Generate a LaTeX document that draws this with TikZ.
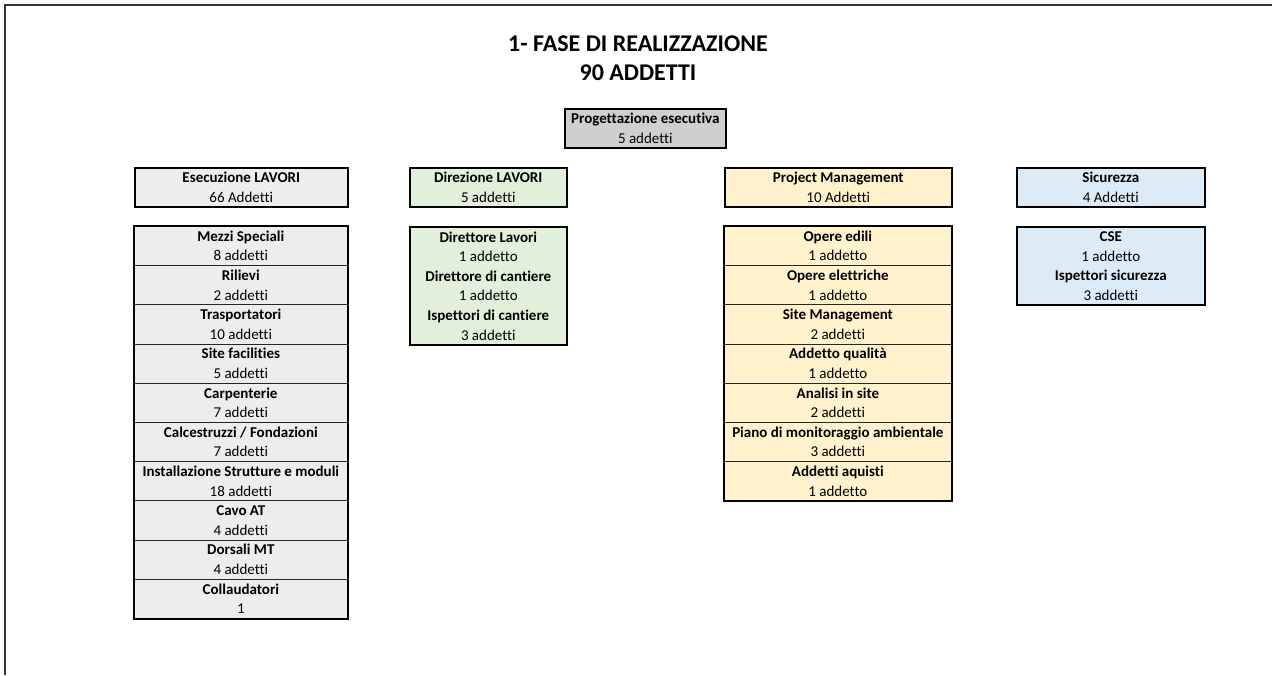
\documentclass[tikz,border=0pt]{standalone}
\usepackage{fontspec}
\setmainfont{Carlito}[Ligatures=NoCommon]
\definecolor{cgray}{HTML}{EDEDED}
\definecolor{cdark}{HTML}{D0CECE}
\definecolor{cgreen}{HTML}{E2EFDA}
\definecolor{cyellow}{HTML}{FFF2CC}
\definecolor{cblue}{HTML}{DDEBF7}
\definecolor{frame}{HTML}{333333}
\begin{document}
\begin{tikzpicture}[x=1pt,y=-1pt,
  txt/.style={font=\fontsize{15}{19.6}\selectfont},
  hbox/.style={txt, draw=black, line width=1.6pt, anchor=north west, inner sep=0pt,
    align=center, minimum height=39pt},
  cell/.style={txt, draw=black!85, line width=0.7pt, anchor=north west, inner sep=0pt,
    align=center, minimum height=39.2pt},
  outer/.style={draw=black, line width=1.6pt},
  titlestyle/.style={font=\fontsize{24}{28}\selectfont\bfseries, anchor=base}
]
\useasboundingbox (0,0) rectangle (1272,675);
\fill[white] (0,0) rectangle (1272,675);
% frame
\draw[frame, line width=2pt] (4,5) -- (1272,5);
\draw[frame, line width=2pt] (5,4) -- (5,675);
% title
\node[titlestyle] (t1) at (638,51) {1- FASE DI REALIZZAZIONE};
\node[titlestyle] (t2) at (638,80) {90 ADDETTI};
% top box
\node[hbox, fill=cdark, minimum width=161pt] (prog) at (564,108) {\textbf{Progettazione esecutiva}\\5 addetti};
% headers
\node[hbox, fill=cgray, minimum width=213pt] (ese) at (134,167) {\textbf{Esecuzione LAVORI}\\66 Addetti};
\node[hbox, fill=cgreen, minimum width=157pt] (dir) at (409,167) {\textbf{Direzione LAVORI}\\5 addetti};
\node[hbox, fill=cyellow, minimum width=227pt] (pm) at (724,167) {\textbf{Project Management}\\10 Addetti};
\node[hbox, fill=cblue, minimum width=188pt] (sic) at (1016,167) {\textbf{Sicurezza}\\4 Addetti};
% Esecuzione list
\foreach \i/\a/\b in {0/{Mezzi Speciali}/{8 addetti}, 1/{Rilievi}/{2 addetti}, 2/{Trasportatori}/{10 addetti},
  3/{Site facilities}/{5 addetti}, 4/{Carpenterie}/{7 addetti}, 5/{Calcestruzzi / Fondazioni}/{7 addetti},
  6/{Installazione Strutture e moduli}/{18 addetti}, 7/{Cavo AT}/{4 addetti}, 8/{Dorsali MT}/{4 addetti},
  9/{Collaudatori}/{1}}
  \node[cell, fill=cgray, minimum width=213pt] (e\i) at (134,226+39.2*\i) {\textbf{\a}\\\b};
\draw[outer] (e0.north west) rectangle (e9.south east);
% Direzione list
\node[hbox, fill=cgreen, minimum width=157pt, minimum height=118pt] (dl) at (409,226)
  {\textbf{Direttore Lavori}\\1 addetto\\\textbf{Direttore di cantiere}\\1 addetto\\\textbf{Ispettori di cantiere}\\3 addetti};
% PM list
\foreach \i/\a/\b in {0/{Opere edili}/{1 addetto}, 1/{Opere elettriche}/{1 addetto}, 2/{Site Management}/{2 addetti},
  3/{Addetto qualità}/{1 addetto}, 4/{Analisi in site}/{2 addetti}, 5/{Piano di monitoraggio ambientale}/{3 addetti},
  6/{Addetti aquisti}/{1 addetto}}
  \node[cell, fill=cyellow, minimum width=227pt] (p\i) at (724,226+39.2*\i) {\textbf{\a}\\\b};
\draw[outer] (p0.north west) rectangle (p6.south east);
% Sicurezza list
\node[hbox, fill=cblue, minimum width=188pt, minimum height=78.4pt] (sl) at (1016,226)
  {\textbf{CSE}\\1 addetto\\\textbf{Ispettori sicurezza}\\3 addetti};
\end{tikzpicture}
\end{document}
